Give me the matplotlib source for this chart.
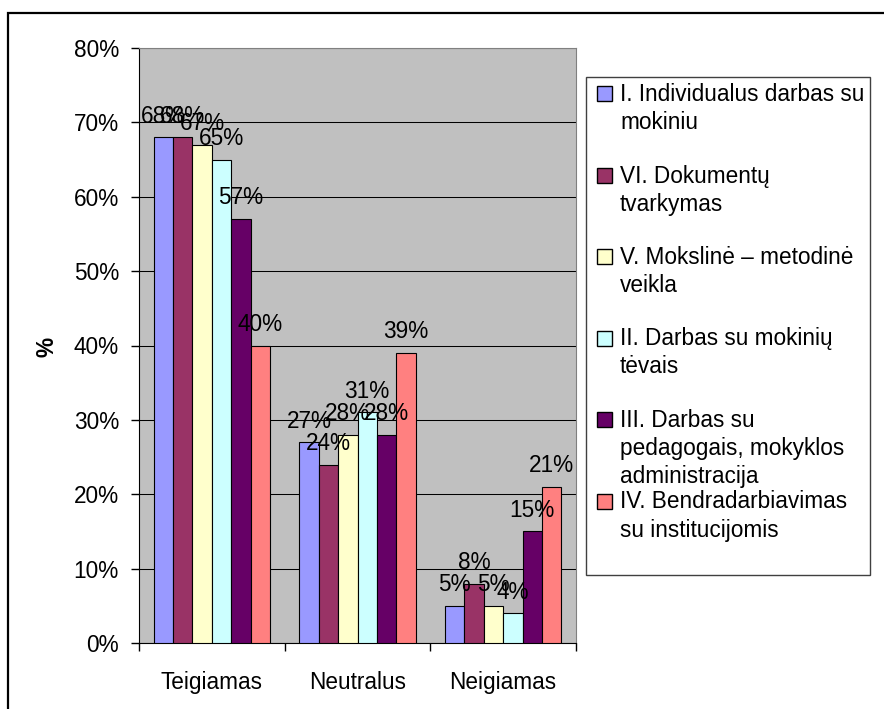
import matplotlib.pyplot as plt
from matplotlib.patches import Rectangle

plt.rcParams['font.family'] = ['Liberation Sans', 'DejaVu Sans']

categories = ["Teigiamas", "Neutralus", "Neigiamas"]
series = [
    "I. Individualus darbas su\nmokiniu",
    "VI. Dokumentų\ntvarkymas",
    "V. Mokslinė – metodinė\nveikla",
    "II. Darbas su mokinių\ntėvais",
    "III. Darbas su\npedagogais, mokyklos\nadministracija",
    "IV. Bendradarbiavimas\nsu institucijomis",
]
values = [
    [68, 27, 5],
    [68, 24, 8],
    [67, 28, 5],
    [65, 31, 4],
    [57, 28, 15],
    [40, 39, 21],
]
colors = ["#9999FF", "#993366", "#FFFFCC", "#CCFFFF", "#660066", "#FF8080"]
yticks = [0, 10, 20, 30, 40, 50, 60, 70, 80]

W, H = 884, 709
FS = 16.3

fig = plt.figure(figsize=(W / 100, H / 100), dpi=100)
ax = fig.add_axes([139 / W, 1 - 643 / H, (576 - 139) / W, (643 - 48) / H])
ax.set_facecolor("#C0C0C0")

n = len(series)
bw = 0.8 / n
for j, (vals, c) in enumerate(zip(values, colors)):
    xs = [i - 0.4 + bw * (j + 0.5) for i in range(len(categories))]
    ax.bar(xs, vals, width=bw, color=c, edgecolor="black", linewidth=0.8, zorder=3)
    for x, v in zip(xs, vals):
        ax.annotate(f"{v}%", (x, v), xytext=(0, 10.5), textcoords="offset points",
                    ha="center", va="baseline", fontsize=FS, zorder=5)

ax.set_xlim(-0.5, len(categories) - 0.5)
ax.set_ylim(0, 80)
ax.set_yticks(yticks)
ax.set_yticklabels([f"{t}%" for t in yticks], fontsize=FS)
ax.yaxis.grid(True, color="black", linewidth=0.75, zorder=1)
ax.set_axisbelow(True)

# ticks between groups, labels centered on groups
ax.set_xticks([i - 0.5 for i in range(len(categories) + 1)])
ax.set_xticklabels([])
ax.set_xticks(range(len(categories)), minor=True)
ax.set_xticklabels(categories, minor=True, fontsize=FS)
ax.tick_params(axis="x", which="major", direction="out", length=6, width=1)
ax.tick_params(axis="x", which="minor", length=0, pad=20)
ax.tick_params(axis="y", direction="out", length=6, width=1, pad=8.5)

for s in ["top", "right"]:
    ax.spines[s].set_color("#808080")
for s in ["left", "bottom"]:
    ax.spines[s].set_color("black")

fig.text(47 / W, 1 - 347 / H, "%", rotation=90, ha="center", va="center",
         fontsize=FS, fontweight="bold")

# legend box drawn by hand to keep the Excel spacing
def fx(px):
    return px / W

def fy(py):
    return 1 - py / H

fig.add_artist(Rectangle((fx(586), fy(575)), fx(870) - fx(586), fy(77) - fy(575),
                         transform=fig.transFigure, fill=False, edgecolor="#404040",
                         linewidth=1))
for i, (name, c) in enumerate(zip(series, colors)):
    y0 = 93 + 81.5 * i
    fig.add_artist(Rectangle((fx(597), fy(y0 + 8)), fx(612) - fx(597), fy(y0 - 7) - fy(y0 + 8),
                             transform=fig.transFigure, facecolor=c, edgecolor="black",
                             linewidth=1))
    for k, line in enumerate(name.split("\n")):
        fig.text(fx(620), fy(y0 + 8 + 28 * k), line, ha="left", va="baseline", fontsize=FS)

# outer chart border (right and bottom edges fall outside the image)
fig.add_artist(Rectangle((fx(8), -0.1), 1.2, fy(13) + 0.1, transform=fig.transFigure,
                         fill=False, edgecolor="black", linewidth=1.6))

fig.savefig("out.png", dpi=100)
